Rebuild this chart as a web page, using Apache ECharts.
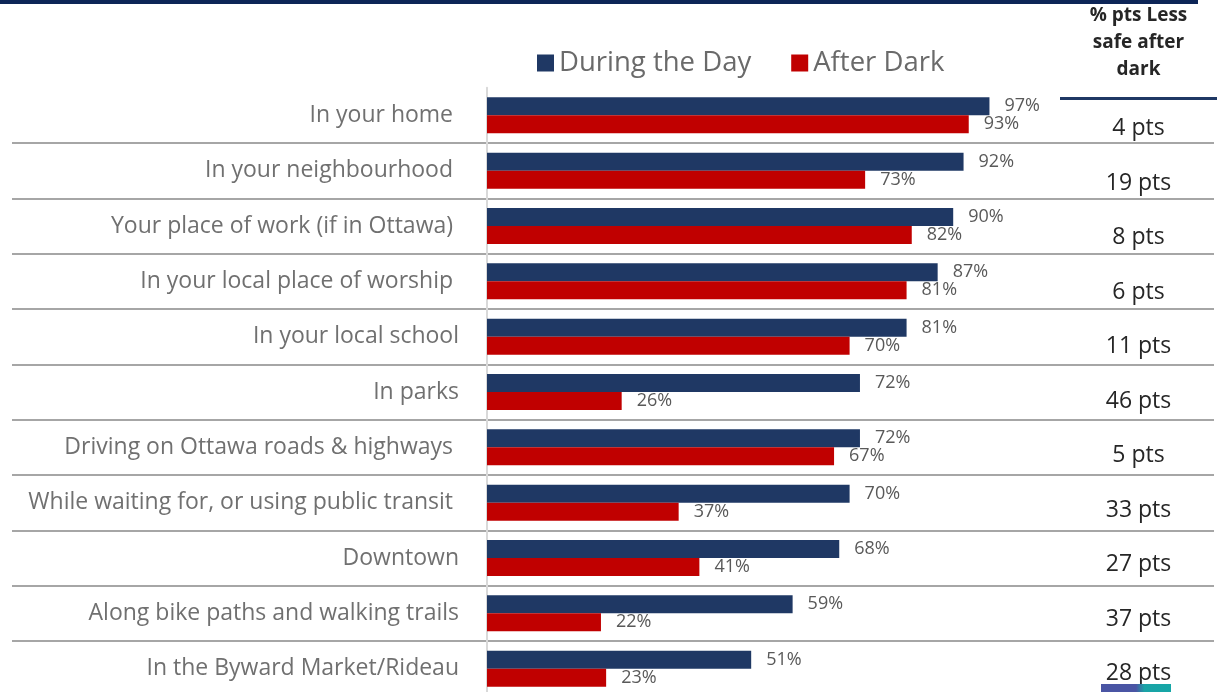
<!DOCTYPE html>
<html>
<head>
<meta charset="utf-8">
<title>Feeling of safety: during the day vs after dark</title>
<script src="https://cdn.jsdelivr.net/npm/echarts@6/dist/echarts.min.js"></script>
<style>
  html, body { margin: 0; padding: 0; background: #ffffff; }
  #chart { width: 1219px; height: 692px; }
</style>
</head>
<body>
<div id="chart"></div>
<script>
// Locations (some source labels carry a trailing space)
const categories = [
  'In your home ',
  'In your neighbourhood ',
  'Your place of work (if in Ottawa) ',
  'In your local place of worship ',
  'In your local school',
  'In parks',
  'Driving on Ottawa roads & highways ',
  'While waiting for, or using public transit ',
  'Downtown',
  'Along bike paths and walking trails',
  'In the Byward Market/Rideau'
];

// % feeling safe
const duringTheDay = [97, 92, 90, 87, 81, 72, 72, 70, 68, 59, 51];
const afterDark    = [93, 73, 82, 81, 70, 26, 67, 37, 41, 22, 23];

// % pts less safe after dark
const lessSafePts = [4, 19, 8, 6, 11, 46, 5, 33, 27, 37, 28];
const lessSafeLabels = lessSafePts.map(v => v + ' pts');

const FONT = "'Open Sans', 'Noto Sans', sans-serif";
const NAVY = '#1f3864';
const RED = '#c00000';

// row band geometry: 11 rows of ~55.3px; the last row runs past the bottom edge
const ROWS_TOP = 87.67;
const ROWS_HEIGHT = 608.67;

const chart = echarts.init(document.getElementById('chart'), null, { renderer: 'canvas' });

const barLabel = {
  show: true,
  position: 'right',
  distance: 15,
  formatter: '{c}%',
  fontFamily: FONT,
  fontSize: 18,
  color: '#595959'
};

chart.setOption({
  animation: false,
  backgroundColor: '#ffffff',
  legend: {
    data: ['During the Day', 'After Dark'],
    left: 537,
    top: 49,
    padding: 0,
    itemWidth: 17,
    itemHeight: 17,
    itemGap: 40,
    icon: 'rect',
    textStyle: { fontFamily: FONT, fontSize: 27.5, color: '#6a6a6a' }
  },
  grid: [
    // bars
    { left: 487, width: 518, top: ROWS_TOP, height: ROWS_HEIGHT, containLabel: false, outerBoundsMode: 'none' },
    // full-width row separators
    { left: 12, right: 5, top: ROWS_TOP, height: ROWS_HEIGHT, containLabel: false, outerBoundsMode: 'none' },
    // "% pts less safe" column
    { left: 1138.5, width: 10, top: 101.5, height: 599.5, containLabel: false, outerBoundsMode: 'none' }
  ],
  xAxis: [
    { gridIndex: 0, type: 'value', min: 0, max: 100, show: false },
    { gridIndex: 1, type: 'value', min: 0, max: 1, show: false },
    { gridIndex: 2, type: 'value', min: 0, max: 1, show: false }
  ],
  yAxis: [
    {
      gridIndex: 0,
      type: 'category',
      data: categories,
      inverse: true,
      axisLine: { show: true, lineStyle: { color: '#d9d9d9', width: 2 } },
      axisTick: { show: false },
      splitLine: { show: false },
      axisLabel: {
        margin: 28,
        fontFamily: FONT,
        fontSize: 23,
        color: '#707070'
      }
    },
    {
      gridIndex: 1,
      type: 'category',
      data: categories,
      inverse: true,
      axisLine: { show: false },
      axisTick: { show: false },
      axisLabel: { show: false },
      splitLine: {
        show: true,
        showMinLine: false,
        lineStyle: { color: '#a6a6a6', width: 2 }
      }
    },
    {
      gridIndex: 2,
      type: 'category',
      data: lessSafeLabels,
      inverse: true,
      axisLine: { show: false },
      axisTick: { show: false },
      splitLine: { show: false },
      axisLabel: {
        margin: 0,
        align: 'center',
        fontFamily: FONT,
        fontSize: 23,
        color: '#262626'
      }
    }
  ],
  series: [
    {
      name: 'During the Day',
      type: 'bar',
      xAxisIndex: 0,
      yAxisIndex: 0,
      data: duringTheDay,
      barWidth: 18,
      barGap: '0%',
      itemStyle: { color: NAVY },
      label: barLabel
    },
    {
      name: 'After Dark',
      type: 'bar',
      xAxisIndex: 0,
      yAxisIndex: 0,
      data: afterDark,
      barWidth: 18,
      barGap: '0%',
      itemStyle: { color: RED },
      label: barLabel
    }
  ],
  graphic: [
    // top banner
    { type: 'rect', shape: { x: 0, y: 0, width: 1198, height: 4 }, style: { fill: '#0d2557' }, z: 10 },
    // column header
    {
      type: 'text',
      x: 1138.5,
      y: 2,
      style: {
        text: '% pts Less\nsafe after\ndark',
        align: 'center',
        verticalAlign: 'top',
        fontFamily: FONT,
        fontWeight: 'bold',
        fontSize: 19,
        lineHeight: 27,
        fill: '#262626'
      },
      z: 10
    },
    // header underline
    { type: 'rect', shape: { x: 1060, y: 97, width: 157, height: 3 }, style: { fill: NAVY }, z: 10 },
    // footer logo strip
    {
      type: 'rect',
      shape: { x: 1101, y: 684, width: 70, height: 8 },
      style: {
        fill: new echarts.graphic.LinearGradient(0, 0, 1, 0, [
          { offset: 0, color: '#4a55a4' },
          { offset: 0.5, color: '#4a55a4' },
          { offset: 0.62, color: '#1aa3a6' },
          { offset: 1, color: '#15a6a6' }
        ])
      },
      z: 10
    }
  ]
});
</script>
</body>
</html>
